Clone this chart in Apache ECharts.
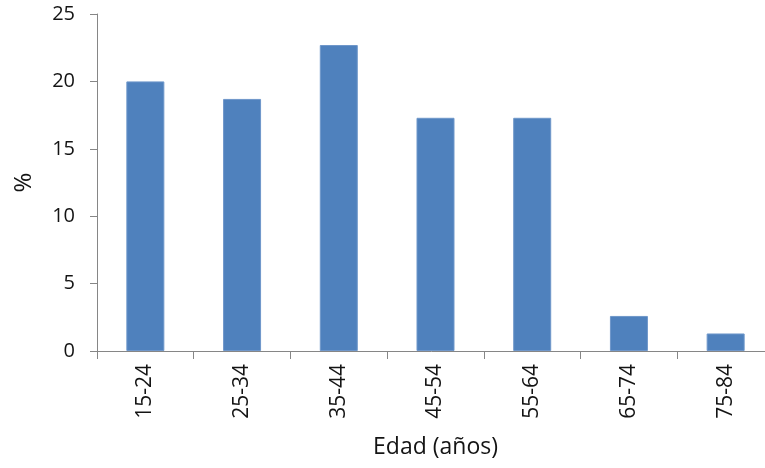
<!DOCTYPE html>
<html>
<head>
<meta charset="utf-8">
<style>
  html, body { margin: 0; padding: 0; background: #fff; }
  #chart { width: 765px; height: 468px; }
</style>
<script src="https://cdn.jsdelivr.net/npm/echarts@6/dist/echarts.min.js"></script>
</head>
<body>
<div id="chart"></div>
<script>
// Age groups and share of cases per group
const ageGroups = ['15-24', '25-34', '35-44', '45-54', '55-64', '65-74', '75-84'];
const percentages = [20.0, 18.7, 22.7, 17.3, 17.3, 2.6, 1.3];
const yTicks = { min: 0, max: 25, interval: 5 };

const FONT = '"Open Sans", "Noto Sans", sans-serif';
const TEXT = '#141414';
const AXIS = '#868686';

const chart = echarts.init(document.getElementById('chart'), null, { renderer: 'canvas' });
chart.setOption({
  animation: false,
  // plot area runs a little past the right edge of the canvas
  grid: { left: 97, top: 14, width: 677, height: 337, containLabel: false, outerBoundsMode: 'none' },
  xAxis: {
    type: 'category',
    data: ageGroups,
    name: 'Edad (años)',
    nameLocation: 'middle',
    nameGap: 85,
    nameTextStyle: { fontFamily: FONT, fontSize: 23, color: TEXT },
    axisLine: { lineStyle: { color: AXIS, width: 1 } },
    axisTick: { show: true, alignWithLabel: false, length: 8, lineStyle: { color: AXIS } },
    axisLabel: { rotate: 90, margin: 13, fontFamily: FONT, fontSize: 21, color: TEXT },
    splitLine: { show: false }
  },
  yAxis: {
    type: 'value',
    min: yTicks.min,
    max: yTicks.max,
    interval: yTicks.interval,
    name: '%',
    nameLocation: 'middle',
    nameGap: 61,
    nameRotate: 90,
    nameTextStyle: { fontFamily: FONT, fontSize: 24, color: TEXT },
    axisLine: { show: true, lineStyle: { color: AXIS, width: 1 } },
    axisTick: { show: true, inside: false, length: 7, lineStyle: { color: AXIS } },
    axisLabel: { margin: 22, fontFamily: FONT, fontSize: 20, color: TEXT },
    splitLine: { show: false }
  },
  series: [{
    type: 'bar',
    data: percentages,
    barWidth: 38,
    itemStyle: { color: '#4F81BD', borderColor: '#6F97CA', borderWidth: 1 }
  }]
});
</script>
</body>
</html>
